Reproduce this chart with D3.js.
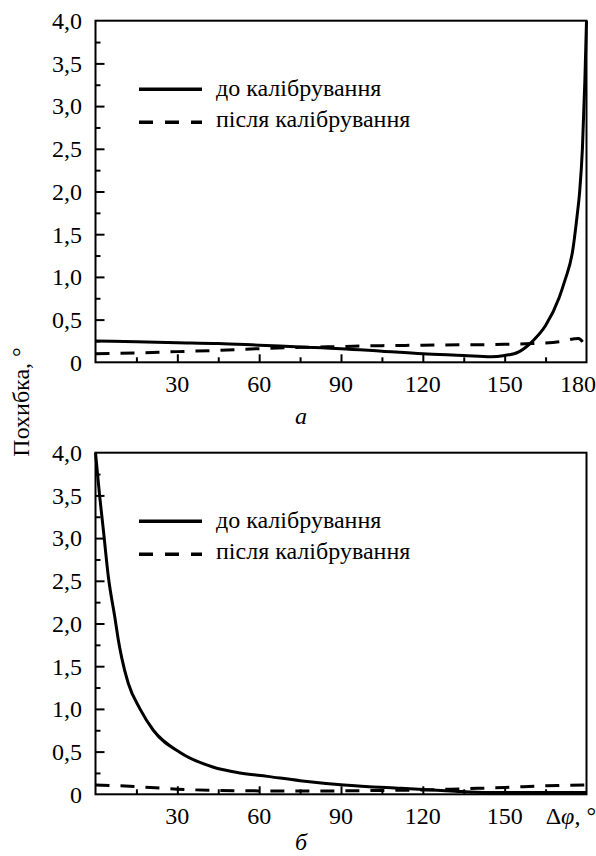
<!DOCTYPE html>
<html>
<head>
<meta charset="utf-8">
<script src="https://cdn.jsdelivr.net/npm/d3@7"></script>
<style>
  html, body { margin: 0; padding: 0; background: #fff; }
  svg { display: block; }
  svg text { font-family: "Liberation Serif", "Times New Roman", serif; }
</style>
</head>
<body>
<svg id="chart" width="596" height="856"></svg>
<script>
// ---------- DATA ----------
const seriesNames = ["до калібрування", "після калібрування"];
const yTickValues = [0, 0.5, 1, 1.5, 2, 2.5, 3, 3.5, 4];
const yTickLabels = ["0", "0,5", "1,0", "1,5", "2,0", "2,5", "3,0", "3,5", "4,0"];
const xTickValues = [30, 60, 90, 120, 150, 180];
const xTickLabelsA = ["30", "60", "90", "120", "150", "180"];
const xTickLabelsB = ["30", "60", "90", "120", "150", "Δφ, °"];
const panelLabels = ["а", "б"];
const yAxisTitle = "Похибка, °";

// panel а
const aBeforeX = [0, 15, 30, 45, 60, 75, 90, 105, 120, 135, 145, 150, 155, 160, 165, 170, 172, 175, 176.5, 177.5, 178.5, 179.4, 180];
const aBeforeY = [0.25, 0.24, 0.23, 0.22, 0.2, 0.18, 0.16, 0.13, 0.1, 0.08, 0.065, 0.08, 0.12, 0.24, 0.43, 0.76, 0.95, 1.32, 1.7, 2.0, 2.5, 3.3, 4.0];
const aAfterX = [0, 15, 30, 45, 60, 75, 90, 105, 120, 135, 150, 160, 170, 177, 180];
const aAfterY = [0.1, 0.11, 0.125, 0.14, 0.16, 0.175, 0.185, 0.195, 0.2, 0.205, 0.21, 0.22, 0.24, 0.28, 0.16];

// panel б
const bBeforeX = [0, 0.3, 1.5, 2.9, 4.7, 7.2, 8.4, 9.6, 12, 16.3, 21.2, 31, 43, 53, 63, 75, 91, 112, 130, 144, 160, 180];
const bBeforeY = [4.0, 3.9, 3.5, 3.09, 2.55, 2.05, 1.8, 1.6, 1.3, 1.0, 0.75, 0.49, 0.32, 0.25, 0.21, 0.16, 0.11, 0.07, 0.04, 0.02, 0.02, 0.02];
const bAfterX = [0, 15, 30, 45, 60, 75, 90, 105, 120, 135, 150, 165, 180];
const bAfterY = [0.11, 0.09, 0.06, 0.045, 0.04, 0.04, 0.04, 0.045, 0.05, 0.065, 0.08, 0.1, 0.11];

// ---------- LAYOUT ----------
const svg = d3.select("#chart");
const FONT = 24;
const left = 95.5, right = 586.5;
const panels = [
  { top: 20.7, bottom: 362.3, before: [aBeforeX, aBeforeY], after: [aAfterX, aAfterY], xLabels: xTickLabelsA, label: panelLabels[0], labelY: 424 },
  { top: 452.7, bottom: 794.3, before: [bBeforeX, bBeforeY], after: [bAfterX, bAfterY], xLabels: xTickLabelsB, label: panelLabels[1], labelY: 850 }
];

panels.forEach((p, pi) => {
  const x = d3.scaleLinear().domain([0, 180]).range([left, right]);
  const y = d3.scaleLinear().domain([0, 4]).range([p.bottom, p.top]);
  const g = svg.append("g");

  const xMinor = d3.range(15, 180, 30);
  const xAxisMaj = d3.axisBottom(x).tickValues(xTickValues.slice(0, 5)).tickSize(-8).tickFormat("");
  const xAxisMin = d3.axisBottom(x).tickValues(xMinor).tickSize(-5).tickFormat("");
  const yAxisMaj = d3.axisLeft(y).tickValues(yTickValues.slice(1, 8)).tickSize(-9).tickFormat("");
  const yAxisMin = d3.axisLeft(y).tickValues(d3.range(0.25, 4, 0.5)).tickSize(-5).tickFormat("");

  [xAxisMaj, xAxisMin].forEach(ax => {
    const a = g.append("g").attr("transform", `translate(0,${p.bottom})`).call(ax);
    a.select(".domain").remove();
    a.selectAll("line").attr("stroke", "#000").attr("stroke-width", 2);
  });
  [yAxisMaj, yAxisMin].forEach(ax => {
    const a = g.append("g").attr("transform", `translate(${left},0)`).call(ax);
    a.select(".domain").remove();
    a.selectAll("line").attr("stroke", "#000").attr("stroke-width", 2);
  });

  g.append("rect")
    .attr("x", left).attr("y", p.top)
    .attr("width", right - left).attr("height", p.bottom - p.top)
    .attr("fill", "none").attr("stroke", "#000").attr("stroke-width", 2);

  g.selectAll(".ylab").data(yTickValues).enter().append("text")
    .attr("x", 82).attr("y", d => y(d) + 8.3)
    .attr("text-anchor", "end").attr("font-size", FONT)
    .text((d, i) => yTickLabels[i]);

  g.selectAll(".xlab").data(xTickValues).enter().append("text")
    .attr("x", (d, i) => i === 5 ? 596 : x(d))
    .attr("y", p.bottom + 30)
    .attr("text-anchor", (d, i) => i === 5 ? "end" : "middle")
    .attr("font-size", FONT)
    .each(function(d, i) {
      const t = d3.select(this);
      const lab = p.xLabels[i];
      if (lab.startsWith("Δφ")) {
        t.append("tspan").text("Δ");
        t.append("tspan").attr("font-style", "italic").text("φ");
        t.append("tspan").text(", °");
      } else {
        t.text(lab);
      }
    });

  g.append("text").attr("x", 301).attr("y", p.labelY)
    .attr("text-anchor", "middle").attr("font-size", FONT).attr("font-style", "italic")
    .text(p.label);

  const line = d3.line().x(d => x(d[0])).y(d => y(d[1])).curve(d3.curveMonotoneX);
  const beforeData = p.before[0].map((v, i) => [v, p.before[1][i]]);
  const afterData = p.after[0].map((v, i) => [v, p.after[1][i]]);
  g.append("path").datum(afterData).attr("d", line)
    .attr("fill", "none").attr("stroke", "#000").attr("stroke-width", 3)
    .attr("stroke-dasharray", "14,11");
  g.append("path").datum(beforeData).attr("d", line)
    .attr("fill", "none").attr("stroke", "#000").attr("stroke-width", 3);

  const ly1 = p.top + 68.5, ly2 = p.top + 101.5;
  g.append("line").attr("x1", 139).attr("x2", 202).attr("y1", ly1).attr("y2", ly1)
    .attr("stroke", "#000").attr("stroke-width", 3.5);
  g.append("line").attr("x1", 139).attr("x2", 202).attr("y1", ly2).attr("y2", ly2)
    .attr("stroke", "#000").attr("stroke-width", 3.5).attr("stroke-dasharray", "14,12");
  g.append("text").attr("x", 216).attr("y", ly1 + 6.5).attr("font-size", FONT).text(seriesNames[0]);
  g.append("text").attr("x", 216).attr("y", ly2 + 5).attr("font-size", FONT).text(seriesNames[1]);
});

svg.append("text")
  .attr("transform", "translate(29,402) rotate(-90)")
  .attr("text-anchor", "middle").attr("font-size", FONT)
  .text(yAxisTitle);
</script>
</body>
</html>
